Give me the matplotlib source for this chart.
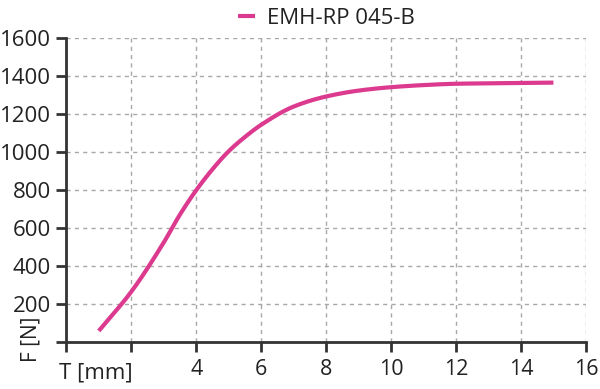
import matplotlib
matplotlib.use("Agg")
import matplotlib.pyplot as plt
import numpy as np

stroke_mm = [1, 2, 3, 3.5, 4, 4.5, 5, 5.5, 6, 7, 8, 9, 10, 11, 12, 14, 15]
force_n = [60, 266, 525, 672, 800, 910, 1005, 1080, 1144, 1240, 1293, 1324, 1342, 1353, 1360, 1364, 1366]
series_name = "EMH-RP 045-B"
xticks = [0, 2, 4, 6, 8, 10, 12, 14, 16]
xticklabels = ["", "", "4", "6", "8", "10", "12", "14", "16"]
yticks = [0, 200, 400, 600, 800, 1000, 1200, 1400, 1600]
yticklabels = ["", "200", "400", "600", "800", "1000", "1200", "1400", "1600"]

plt.rcParams['font.family'] = ['Open Sans', 'DejaVu Sans']

fig = plt.figure(figsize=(6, 3.89), dpi=100)
ax = fig.add_axes([0.1105, 0.12, 0.866, 0.782])

xs = np.array(stroke_mm, dtype=float)
ys = np.array(force_n, dtype=float)

def pchip(x, y, xn):
    h = np.diff(x); d = np.diff(y) / h
    m = np.zeros_like(y)
    for k in range(1, len(x) - 1):
        if d[k-1] * d[k] > 0:
            w1 = 2*h[k] + h[k-1]; w2 = h[k] + 2*h[k-1]
            m[k] = (w1 + w2) / (w1 / d[k-1] + w2 / d[k])
    m[0] = d[0]; m[-1] = d[-1]
    out = np.empty_like(xn)
    idx = np.clip(np.searchsorted(x, xn) - 1, 0, len(x) - 2)
    for i, xv in enumerate(xn):
        k = idx[i]; t = (xv - x[k]) / h[k]
        h00 = 2*t**3 - 3*t**2 + 1; h10 = t**3 - 2*t**2 + t
        h01 = -2*t**3 + 3*t**2; h11 = t**3 - t**2
        out[i] = h00*y[k] + h10*h[k]*m[k] + h01*y[k+1] + h11*h[k]*m[k+1]
    return out

xn = np.linspace(xs[0], xs[-1], 400)
yn = pchip(xs, ys, xn)

ax.plot(xn, yn, color='#dc3a8e', lw=3, solid_capstyle='butt', label=series_name, zorder=3)

ax.set_xlim(0, 16)
ax.set_ylim(0, 1600)
ax.set_xticks(xticks)
ax.set_xticklabels(xticklabels)
ax.set_yticks(yticks)
ax.set_yticklabels(yticklabels)
ax.grid(True, color='#a8a8a8', linestyle=(0, (3, 3)), lw=1)
ax.set_axisbelow(True)
for s in ['top', 'right']:
    ax.spines[s].set_visible(False)
for s in ['left', 'bottom']:
    ax.spines[s].set_color('#333333')
    ax.spines[s].set_linewidth(2)
ax.tick_params(axis='both', direction='out', length=7, width=2, color='#333333',
               labelsize=16, labelcolor='#222222')
ax.tick_params(axis='x', pad=5, labelsize=15.5)
ax.tick_params(axis='y', pad=4)

fig.text(0.16, 0.042, "T [mm]", fontsize=16, color='#222222', ha='center', va='center')
fig.text(0.052, 0.128, "F [N]", fontsize=15, color='#222222', ha='center', va='center', rotation=90)

leg = ax.legend(loc='lower center', bbox_to_anchor=(0.5, 1.0), frameon=False, fontsize=16,
                handlelength=0.8, handletextpad=0.5, borderaxespad=0.0, labelcolor='#222222')

fig.savefig("out.png", dpi=100)
